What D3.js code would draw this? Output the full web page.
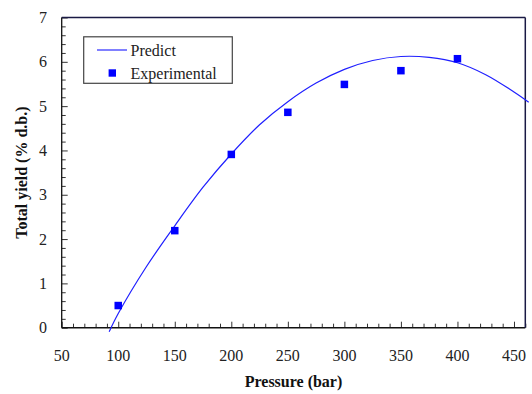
<!DOCTYPE html>
<html>
<head>
<meta charset="utf-8">
<script src="https://cdn.jsdelivr.net/npm/d3@7"></script>
<style>
  html, body { margin: 0; padding: 0; background: #fff; }
  svg { display: block; }
  text { font-family: "Liberation Serif", "Times New Roman", serif; }
</style>
</head>
<body>
<svg id="chart" width="532" height="394"></svg>
<script>
// ---- data ----
const expPressure = [100, 150, 200, 250, 300, 350, 400];
const expYield    = [0.50, 2.19, 3.91, 4.86, 5.49, 5.80, 6.07];

const predPressure = [92, 100, 125, 150, 175, 200, 225, 250, 275, 300, 325, 350, 375, 400, 425, 450, 463];
const predYield    = [-0.09, 0.32, 1.38, 2.30, 3.17, 3.92, 4.58, 5.10, 5.52, 5.83, 6.03, 6.12, 6.10, 5.98, 5.71, 5.32, 5.09];

const xTickLabels = [50, 100, 150, 200, 250, 300, 350, 400, 450];
const yTickLabels = [0, 1, 2, 3, 4, 5, 6, 7];
const seriesNames = ["Predict", "Experimental"];

// ---- layout ----
const svg = d3.select("#chart");
const L = 61.7, R = 525.3, T = 17.5, B = 327.7;

const x = d3.scaleLinear().domain([50, 460]).range([L, R]);
const y = d3.scaleLinear().domain([0, 7]).range([B, T]);

const axisColor = "#111";

// minor ticks x (every 10), inside
const xMinor = d3.range(50, 461, 10).filter(v => v % 50 !== 0);
const xAxisMinor = d3.axisTop(x).tickValues(xMinor).tickSize(4).tickFormat("");
svg.append("g").attr("transform", `translate(0,${B})`).call(xAxisMinor)
  .call(g => g.select(".domain").remove())
  .call(g => g.selectAll("line").attr("stroke", "#333").attr("stroke-width", 1));

const xAxisMajor = d3.axisTop(x).tickValues(xTickLabels).tickSize(6).tickFormat("");
svg.append("g").attr("transform", `translate(0,${B})`).call(xAxisMajor)
  .call(g => g.select(".domain").remove())
  .call(g => g.selectAll("line").attr("stroke", "#333").attr("stroke-width", 1));

// x tick labels
svg.append("g").selectAll("text").data(xTickLabels).join("text")
  .attr("x", d => x(d)).attr("y", 361)
  .attr("text-anchor", "middle")
  .attr("font-size", 16).attr("fill", "#222")
  .text(d => d);

// minor ticks y (every 0.2), inside
const yMinor = d3.range(0, 7.01, 0.2).map(v => +v.toFixed(1)).filter(v => Math.abs(v - Math.round(v)) > 1e-6);
const yAxisMinor = d3.axisRight(y).tickValues(yMinor).tickSize(4).tickFormat("");
svg.append("g").attr("transform", `translate(${L},0)`).call(yAxisMinor)
  .call(g => g.select(".domain").remove())
  .call(g => g.selectAll("line").attr("stroke", "#333").attr("stroke-width", 1));

const yAxisMajor = d3.axisRight(y).tickValues(yTickLabels).tickSize(6).tickFormat("");
svg.append("g").attr("transform", `translate(${L},0)`).call(yAxisMajor)
  .call(g => g.select(".domain").remove())
  .call(g => g.selectAll("line").attr("stroke", "#333").attr("stroke-width", 1));

// y tick labels
svg.append("g").selectAll("text").data(yTickLabels).join("text")
  .attr("x", 47).attr("y", d => y(d) + 5.5)
  .attr("text-anchor", "end")
  .attr("font-size", 16).attr("fill", "#222")
  .text(d => d);

// frame
svg.append("line").attr("x1", L).attr("x2", R).attr("y1", B).attr("y2", B)
  .attr("stroke", axisColor).attr("stroke-width", 1.6);
svg.append("line").attr("x1", L).attr("x2", L).attr("y1", T).attr("y2", B)
  .attr("stroke", axisColor).attr("stroke-width", 1.3);
svg.append("line").attr("x1", L).attr("x2", R).attr("y1", T).attr("y2", T)
  .attr("stroke", "#1a1a44").attr("stroke-width", 1.3);
svg.append("line").attr("x1", R).attr("x2", R).attr("y1", T).attr("y2", B)
  .attr("stroke", "#1a1a44").attr("stroke-width", 1.5);

// predicted curve
const line = d3.line()
  .x((d, i) => x(predPressure[i]))
  .y((d, i) => y(predYield[i]))
  .curve(d3.curveCatmullRom.alpha(0.5));
svg.append("path").datum(predYield)
  .attr("d", line)
  .attr("fill", "none").attr("stroke", "#1f1fff").attr("stroke-width", 1.2);

// experimental points
const ms = 7.5;
svg.append("g").selectAll("rect").data(expYield).join("rect")
  .attr("x", (d, i) => x(expPressure[i]) - ms / 2)
  .attr("y", d => y(d) - ms / 2)
  .attr("width", ms).attr("height", ms)
  .attr("fill", "#0000ff");

// axis titles
svg.append("text").attr("x", (L + R) / 2).attr("y", 387)
  .attr("text-anchor", "middle").attr("font-size", 16).attr("font-weight", "bold")
  .attr("fill", "#111").text("Pressure (bar)");
svg.append("text")
  .attr("transform", `translate(27,${(T + B) / 2}) rotate(-90)`)
  .attr("text-anchor", "middle").attr("font-size", 16).attr("font-weight", "bold")
  .attr("fill", "#111").text("Total yield (% d.b.)");

// legend
const lg = svg.append("g");
lg.append("rect").attr("x", 83.7).attr("y", 36.8).attr("width", 148.6).attr("height", 46.5)
  .attr("fill", "#fff").attr("stroke", "#444").attr("stroke-width", 1.2);
lg.append("line").attr("x1", 97).attr("x2", 127).attr("y1", 50).attr("y2", 50)
  .attr("stroke", "#4a4aff").attr("stroke-width", 1.4);
lg.append("text").attr("x", 130.5).attr("y", 55.5).attr("font-size", 16).attr("fill", "#222").text(seriesNames[0]);
lg.append("rect").attr("x", 112.3 - 3.7).attr("y", 73 - 3.7).attr("width", 7.4).attr("height", 7.4).attr("fill", "#0000ff");
lg.append("text").attr("x", 130.5).attr("y", 79).attr("font-size", 16).attr("fill", "#222").text(seriesNames[1]);
</script>
</body>
</html>
